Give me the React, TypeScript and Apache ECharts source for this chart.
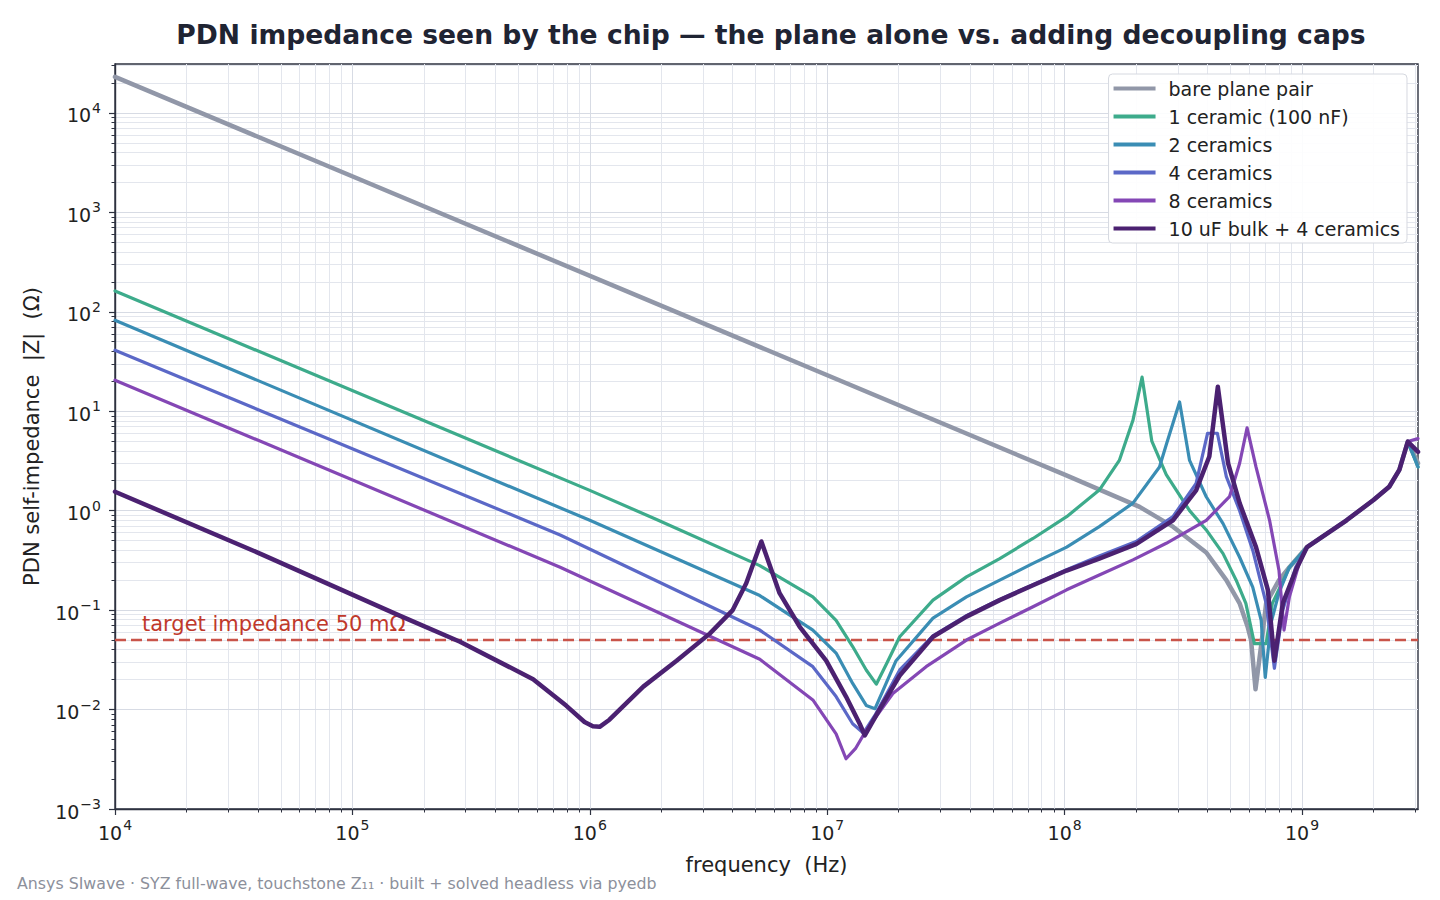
import * as echarts from "echarts";
import { useEffect, useRef } from "react";

const SERIES_NAMES = [
  "bare plane pair",
  "1 ceramic (100 nF)",
  "2 ceramics",
  "4 ceramics",
  "8 ceramics",
  "10 uF bulk + 4 ceramics",
];
const COLORS = ["#9197a8", "#3dab8b", "#3a8db4", "#5b68c7", "#8447b5", "#4b2171"];
const WIDTHS = [4.5, 3.2, 3.2, 3.2, 3.2, 4.5];

const BARE_F = [1e4, 1e8, 2.07e8, 2.86e8, 3.95e8, 4.8e8, 5.46e8, 5.9e8, 6.1e8, 6.37e8, 6.8e8, 7.06e8, 8.0e8, 8.85e8];
const BARE_Z = [2.3e4, 2.3, 1.09, 0.69, 0.38, 0.2, 0.117, 0.068, 0.05, 0.016, 0.054, 0.117, 0.2, 0.27];

const C1_F = [1e4, 1e6, 1.9e6, 5.2e6, 8.7e6, 1.09e7, 1.28e7, 1.46e7, 1.61e7, 1.78e7, 2.02e7, 2.79e7, 3.86e7, 5.33e7, 7.36e7, 1.02e8, 1.4e8, 1.7e8, 1.94e8, 2.12e8, 2.33e8, 2.68e8, 3.36e8, 3.95e8, 4.65e8, 5.28e8, 5.8e8, 6.3e8, 7.06e8, 7.5e8, 8.85e8];
const C1_Z = [162, 1.6, 0.82, 0.28, 0.136, 0.079, 0.043, 0.025, 0.018, 0.029, 0.054, 0.126, 0.216, 0.33, 0.525, 0.87, 1.61, 3.2, 8.1, 22, 5.0, 2.3, 1.0, 0.64, 0.37, 0.2, 0.117, 0.046, 0.046, 0.117, 0.27];

const C2_F = [1e4, 1e6, 5.2e6, 8.7e6, 1.09e7, 1.28e7, 1.46e7, 1.59e7, 1.95e7, 2.79e7, 3.86e7, 5.33e7, 7.36e7, 1.02e8, 1.4e8, 1.94e8, 2.51e8, 2.68e8, 3.05e8, 3.36e8, 3.95e8, 4.65e8, 5.46e8, 6.2e8, 6.73e8, 7.0e8, 7.4e8, 8.0e8, 8.85e8];
const C2_Z = [82, 0.8, 0.14, 0.063, 0.037, 0.0183, 0.011, 0.0102, 0.031, 0.083, 0.136, 0.2, 0.295, 0.43, 0.69, 1.19, 2.75, 4.6, 12.4, 3.2, 1.38, 0.74, 0.34, 0.17, 0.079, 0.021, 0.074, 0.15, 0.27];

const C4_F = [1e4, 7.5e5, 5.2e6, 8.7e6, 1.09e7, 1.28e7, 1.42e7, 1.6e7, 2.02e7, 2.79e7, 3.86e7, 5.33e7, 7.36e7, 1.02e8, 1.4e8, 2.0e8, 2.86e8, 3.58e8, 4.0e8, 4.4e8, 4.8e8, 5.46e8, 6.2e8, 7.06e8, 7.65e8, 8.3e8, 9.4e8];
const C4_Z = [41, 0.57, 0.063, 0.027, 0.0135, 0.0072, 0.0058, 0.009, 0.025, 0.055, 0.088, 0.128, 0.18, 0.255, 0.35, 0.49, 0.87, 1.88, 6.0, 6.0, 2.2, 1.0, 0.4, 0.117, 0.026, 0.1, 0.27];

const C8_F = [1e4, 7.5e5, 5.2e6, 8.7e6, 1.09e7, 1.2e7, 1.32e7, 1.46e7, 1.89e7, 2.61e7, 3.86e7, 5.33e7, 7.36e7, 1.02e8, 1.4e8, 1.94e8, 2.68e8, 3.95e8, 4.95e8, 5.46e8, 5.87e8, 6.4e8, 7.3e8, 8.0e8, 8.4e8, 8.85e8, 9.75e8];
const C8_Z = [20.5, 0.27, 0.032, 0.0125, 0.0057, 0.0032, 0.0041, 0.0062, 0.0145, 0.027, 0.05, 0.074, 0.108, 0.16, 0.225, 0.32, 0.47, 0.8, 1.38, 3.0, 6.8, 2.75, 0.8, 0.25, 0.063, 0.136, 0.3];

const BULK_F = [1e4, 4.08e4, 1.58e5, 2.84e5, 5.77e5, 7.97e5, 9.5e5, 1.03e6, 1.1e6, 1.21e6, 1.68e6, 2.32e6, 3.2e6, 4.0e6, 4.56e6, 5.28e6, 6.3e6, 7.66e6, 9.9e6, 1.2e7, 1.37e7, 1.44e7, 1.66e7, 2.02e7, 2.79e7, 3.86e7, 5.33e7, 7.36e7, 1.02e8, 1.4e8, 2.0e8, 2.86e8, 3.58e8, 4.07e8, 4.42e8, 4.88e8, 5.46e8, 6.4e8, 7.18e8, 7.65e8, 8.3e8, 9.4e8];
const BULK_Z = [1.55, 0.37, 0.088, 0.048, 0.0202, 0.0109, 0.0075, 0.0068, 0.0067, 0.0079, 0.017, 0.031, 0.058, 0.1, 0.186, 0.49, 0.148, 0.068, 0.031, 0.0135, 0.0072, 0.0055, 0.01, 0.022, 0.054, 0.086, 0.126, 0.178, 0.25, 0.33, 0.46, 0.8, 1.6, 3.5, 17.6, 3.0, 1.19, 0.43, 0.16, 0.031, 0.117, 0.25];

// above ~1 GHz every configuration collapses onto the same package/via response
const TAIL_F = [1.05e9, 1.54e9, 2.0e9, 2.33e9, 2.57e9, 2.79e9];
const TAIL_Z = [0.43, 0.8, 1.28, 1.74, 2.57, 4.95];
const END_F = 3.08e9;
const END_Z = [3.0, 2.75, 2.75, 3.9, 5.3, 3.9];

const TARGET_Z = 0.05;

const X_MIN = 1e4;
const X_MAX = 3.08e9;
const Y_MIN = 1e-3;
const Y_MAX = 3.1e4;
const X_DECADES = [4, 5, 6, 7, 8, 9];
const Y_DECADES = [-3, -2, -1, 0, 1, 2, 3, 4];
const MINOR_STEPS = [2, 3, 4, 5, 6, 7, 8, 9];

const FONT = "DejaVu Sans";
const INK = "#222222";
const SPINE = "#2e3240";

const decadeLabel = (v: number) => {
  const e = Math.log10(v);
  if (Math.abs(e - Math.round(e)) > 1e-6) return "";
  const exp = Math.round(e);
  return `{b|10}{s|${exp < 0 ? "−" + -exp : exp}}`;
};

const tickRich = {
  b: { fontFamily: FONT, fontSize: 19, color: INK, padding: [5, 0, 0, 0], verticalAlign: "bottom" },
  s: { fontFamily: FONT, fontSize: 14, color: INK, verticalAlign: "top", padding: [0, 0, 0, 1] },
};

const minors = (decades: number[], max: number) =>
  decades.flatMap((d) => MINOR_STEPS.map((m) => m * Math.pow(10, d))).filter((v) => v < max);

const pairs = (f: number[], z: number[]) => f.map((x, i) => [x, z[i]]);

export default function App() {
  const chartRef = useRef<HTMLDivElement>(null);

  useEffect(() => {
    const chart = echarts.init(chartRef.current!, null, { renderer: "svg" });

    const xMinor = minors(X_DECADES, X_MAX);
    const yMinor = minors(Y_DECADES, Y_MAX);
    const xMajor = X_DECADES.map((d) => Math.pow(10, d));
    const yMajor = Y_DECADES.map((d) => Math.pow(10, d));

    const own = [
      [BARE_F, BARE_Z],
      [C1_F, C1_Z],
      [C2_F, C2_Z],
      [C4_F, C4_Z],
      [C8_F, C8_Z],
      [BULK_F, BULK_Z],
    ];

    const curves = own.map(([f, z], i) => ({
      name: SERIES_NAMES[i],
      type: "line",
      data: [...pairs(f, z), ...pairs(TAIL_F, TAIL_Z), [END_F, END_Z[i]]],
      showSymbol: false,
      symbol: "none",
      color: COLORS[i],
      lineStyle: { width: WIDTHS[i], color: COLORS[i], join: "round", cap: "round" },
      z: 3 + i,
    }));

    const gridLine = (color: string) => ({ color, width: 1, type: "solid" });

    chart.setOption({
      animation: false,
      backgroundColor: "#ffffff",
      title: [
        {
          text: "PDN impedance seen by the chip — the plane alone vs. adding decoupling caps",
          left: 766,
          textAlign: "center",
          top: 16,
          textStyle: { fontFamily: FONT, fontSize: 26.6, fontWeight: "bold", color: "#1f2433" },
        },
        {
          text: "Ansys SIwave · SYZ full-wave, touchstone Z₁₁ · built + solved headless via pyedb",
          left: 12,
          top: 870,
          textStyle: { fontFamily: FONT, fontSize: 15.8, fontWeight: "normal", color: "#8c909b" },
        },
      ],
      grid: {
        left: 115,
        right: 22,
        top: 64,
        bottom: 91,
        show: true,
        borderColor: SPINE,
        borderWidth: 1.4,
        backgroundColor: "#ffffff",
      },
      legend: {
        orient: "vertical",
        right: 33,
        top: 74,
        icon: "rect",
        itemWidth: 42,
        itemHeight: 4,
        itemGap: 9,
        padding: [5, 7, 5, 5],
        backgroundColor: "rgba(255,255,255,0.9)",
        borderColor: "#d6d9e0",
        borderWidth: 1,
        borderRadius: 4,
        data: SERIES_NAMES,
        textStyle: { fontFamily: FONT, fontSize: 19, color: INK, padding: [0, 0, 0, 8] },
      },
      xAxis: [
        {
          type: "log",
          logBase: 10,
          min: X_MIN,
          max: X_MAX,
          splitNumber: 6,
          name: "frequency  (Hz)",
          nameLocation: "middle",
          nameGap: 45,
          nameTextStyle: { fontFamily: FONT, fontSize: 21, color: INK },
          axisLine: { lineStyle: { color: SPINE, width: 1.4 } },
          axisTick: { length: 6, lineStyle: { color: SPINE, width: 1.2 } },
          axisLabel: {
            formatter: decadeLabel,
            rich: tickRich,
            margin: 9,
            showMaxLabel: false,
          },
          splitLine: { show: false },
        },
        {
          type: "log",
          logBase: 10,
          min: X_MIN,
          max: X_MAX,
          position: "bottom",
          axisLine: { show: false },
          axisTick: { length: 3.5, customValues: xMinor, lineStyle: { color: SPINE, width: 1 } },
          axisLabel: { show: false },
          splitLine: { show: false },
        },
      ],
      yAxis: [
        {
          type: "log",
          logBase: 10,
          min: Y_MIN,
          max: Y_MAX,
          splitNumber: 8,
          name: "PDN self-impedance  |Z|  (Ω)",
          nameLocation: "middle",
          nameGap: 73,
          nameTextStyle: { fontFamily: FONT, fontSize: 21, color: INK },
          axisLine: { show: true, lineStyle: { color: SPINE, width: 1.4 } },
          axisTick: { show: true, length: 6, lineStyle: { color: SPINE, width: 1.2 } },
          axisLabel: {
            formatter: decadeLabel,
            rich: tickRich,
            margin: 14,
            showMaxLabel: false,
          },
          splitLine: { show: false },
        },
        {
          type: "log",
          logBase: 10,
          min: Y_MIN,
          max: Y_MAX,
          position: "left",
          axisLine: { show: false },
          axisTick: { show: true, length: 3.5, customValues: yMinor, lineStyle: { color: SPINE, width: 1 } },
          axisLabel: { show: false },
          splitLine: { show: false },
        },
      ],
      series: [
        {
          name: "grid",
          type: "line",
          data: [],
          z: 0,
          silent: true,
          markLine: {
            silent: true,
            symbol: "none",
            animation: false,
            z: 0,
            label: { show: false },
            data: [
              ...xMinor.map((v) => ({ xAxis: v, lineStyle: gridLine("#e3e6ed") })),
              ...yMinor.map((v) => ({ yAxis: v, lineStyle: gridLine("#e3e6ed") })),
              ...xMajor.map((v) => ({ xAxis: v, lineStyle: gridLine("#d7dbe4") })),
              ...yMajor.map((v) => ({ yAxis: v, lineStyle: gridLine("#d7dbe4") })),
            ],
          },
        },
        {
          name: "target",
          type: "line",
          data: [],
          z: 1,
          silent: true,
          markLine: {
            silent: true,
            symbol: "none",
            animation: false,
            z: 1,
            lineStyle: { color: "#c9544a", width: 2.4, type: [11, 5] },
            label: {
              show: true,
              position: "insideStartTop",
              distance: [27, 6],
              formatter: "target impedance 50 mΩ",
              fontFamily: FONT,
              fontSize: 21,
              color: "#c0392b",
            },
            data: [{ yAxis: TARGET_Z }],
          },
        },
        ...curves,
      ],
    });

    return () => chart.dispose();
  }, []);

  return (
    <div
      ref={chartRef}
      style={{ position: "fixed", left: 0, top: 0, width: 1440, height: 900 }}
    />
  );
}
